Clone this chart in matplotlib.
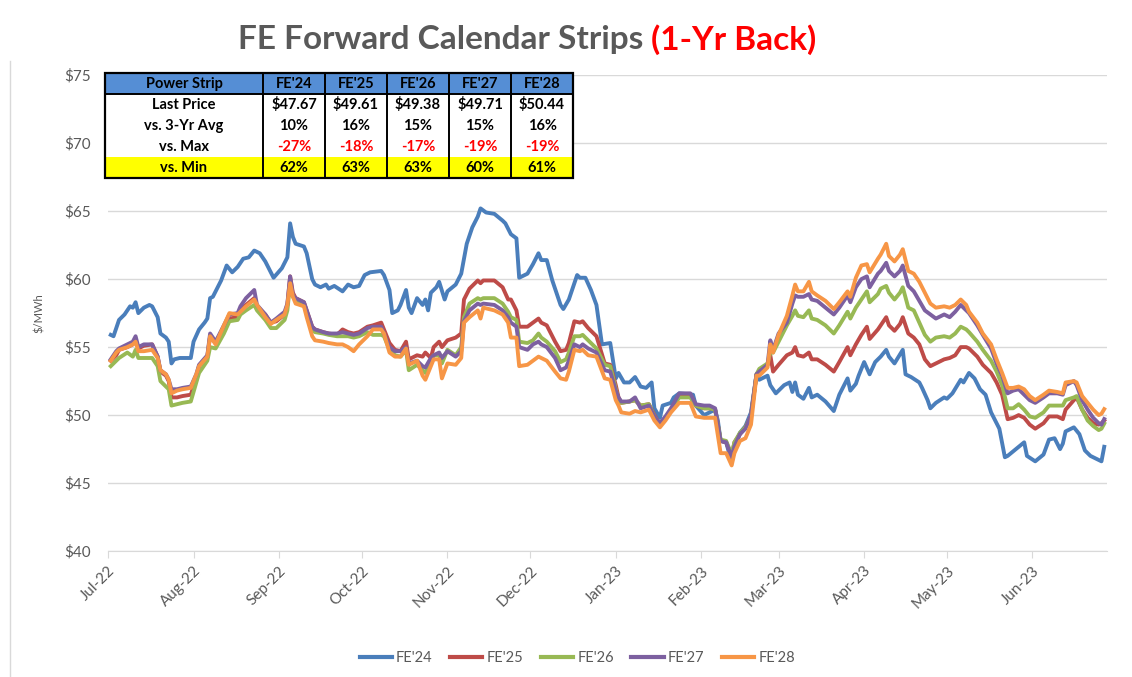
import numpy as np
import pandas as pd
import matplotlib
matplotlib.use('Agg')
import matplotlib.pyplot as plt
import matplotlib.dates as mdates
from matplotlib.lines import Line2D
from matplotlib.patches import Rectangle

plt.rcParams['font.family'] = ['Lato', 'DejaVu Sans']

start = pd.Timestamp('2022-07-01')

# FE'24 - дни от 1 июля 2022 и цены
days_24 = [1, 2, 4, 6, 8, 9, 10, 11, 13, 15, 16, 18, 19, 21, 22, 23, 24, 26, 30, 31,
           33, 35, 36, 37, 38, 41, 43, 45, 47, 49, 51, 53, 55, 57, 58, 60, 63, 65, 66, 67,
           68, 71, 72, 74, 75, 77, 79, 80, 82, 85, 87, 89, 91, 93, 95, 99, 100, 102, 103, 105,
           106, 108, 109, 110, 112, 114, 115, 116, 117, 119, 120, 122, 123, 126, 128, 130, 132, 134, 135, 137,
           140, 143, 144, 146, 148, 149, 152, 154, 156, 157, 159, 161, 164, 165, 167, 170, 171, 173, 175, 177,
           179, 182, 184, 185, 187, 189, 191, 193, 195, 197, 198, 200, 201, 204, 205, 207, 212, 213, 216, 218,
           220, 221, 222, 224, 226, 227, 229, 231, 233, 235, 236, 239, 240, 242, 245, 247, 248, 249, 250, 252,
           254, 255, 257, 260, 263, 265, 268, 269, 271, 272, 274, 276, 278, 280, 282, 283, 285, 288, 289, 291,
           294, 295, 297, 298, 300, 303, 304, 306, 309, 310, 312, 314, 316, 318, 320, 323, 325, 326, 329, 332,
           333, 336, 339, 341, 343, 345, 346, 347, 350, 352, 354, 356, 358, 360, 361]
fe24 = [55.9, 55.8, 57.0, 57.4, 58.0, 57.9, 58.3, 57.5, 57.9, 58.1, 58.0, 57.2, 56.0, 55.7, 55.4, 53.8, 54.1, 54.2, 54.2, 55.4,
        56.3, 56.8, 57.1, 58.6, 58.7, 59.9, 61.0, 60.5, 60.9, 61.5, 61.6, 62.1, 61.9, 61.3, 60.9, 60.1, 60.8, 61.6, 64.1, 63.1,
        62.6, 62.4, 61.9, 60.0, 59.6, 59.4, 59.6, 59.3, 59.5, 59.1, 59.6, 59.4, 59.5, 60.3, 60.5, 60.6, 60.3, 59.2, 57.5, 57.7,
        58.1, 59.2, 57.9, 57.5, 58.6, 58.1, 58.5, 57.7, 59.0, 59.4, 59.8, 58.5, 59.1, 59.6, 60.4, 62.6, 63.8, 64.6, 65.2, 64.9,
        64.8, 64.3, 64.1, 63.3, 63.0, 60.1, 60.4, 61.1, 61.9, 61.4, 61.4, 59.9, 58.1, 57.8, 58.5, 60.3, 60.1, 60.1, 59.2, 58.1,
        55.2, 55.3, 52.7, 53.1, 52.4, 52.4, 52.8, 52.1, 52.0, 52.4, 50.5, 49.8, 50.7, 50.9, 51.3, 51.6, 51.5, 50.7, 50.0, 50.2,
        50.4, 49.6, 48.1, 48.0, 46.5, 47.5, 48.7, 49.2, 50.2, 53.0, 52.6, 52.9, 52.2, 51.6, 52.2, 52.4, 51.7, 52.4, 51.5, 51.2,
        52.0, 51.3, 51.5, 51.0, 50.3, 51.5, 52.7, 51.8, 52.3, 52.9, 53.9, 53.0, 53.9, 54.3, 54.8, 54.3, 53.8, 54.8, 53.0, 52.8,
        52.4, 52.0, 51.1, 50.5, 50.9, 51.3, 51.2, 51.6, 52.6, 52.4, 53.1, 52.7, 51.9, 51.5, 50.2, 49.0, 46.9, 47.0, 47.5, 48.0,
        47.0, 46.6, 47.1, 48.2, 48.3, 47.5, 47.9, 48.8, 49.1, 48.6, 47.4, 47.0, 46.8, 46.6, 47.67]

# FE'25..FE'28 - общая сетка дней
days = [1, 3, 4, 7, 9, 10, 11, 13, 16, 18, 19, 21, 22, 23, 25, 27, 30, 32, 33, 36,
        37, 39, 42, 44, 47, 48, 50, 53, 54, 57, 59, 61, 64, 65, 66, 67, 68, 71, 72, 74,
        75, 78, 80, 83, 85, 87, 89, 91, 94, 96, 99, 100, 102, 104, 106, 108, 109, 112, 114, 115,
        117, 118, 120, 121, 123, 126, 128, 129, 131, 134, 135, 136, 140, 143, 145, 146, 148, 149, 152, 154,
        156, 157, 159, 162, 164, 166, 167, 169, 171, 172, 174, 177, 180, 182, 184, 185, 186, 189, 191, 193,
        196, 198, 200, 202, 204, 207, 209, 211, 213, 216, 218, 220, 222, 224, 226, 227, 229, 231, 233, 235,
        236, 239, 240, 241, 243, 246, 248, 249, 250, 252, 254, 255, 257, 260, 263, 265, 268, 269, 271, 273,
        275, 276, 279, 280, 282, 283, 285, 287, 288, 290, 292, 294, 296, 298, 300, 303, 305, 307, 309, 311,
        312, 315, 317, 320, 322, 324, 326, 328, 330, 332, 334, 336, 339, 341, 344, 346, 347, 350, 351, 353,
        355, 357, 359, 360, 361]
fe25 = [54.0, 54.4, 54.8, 55.0, 55.2, 55.5, 54.9, 55.1, 55.2, 54.3, 53.2, 52.9, 52.5, 51.3, 51.3, 51.4, 51.5, 52.7, 53.6, 54.3,
        55.8, 55.3, 56.5, 57.1, 57.2, 57.7, 58.1, 58.6, 58.0, 57.4, 56.8, 56.9, 57.4, 58.1, 60.2, 59.0, 58.6, 58.3, 57.7, 56.5,
        56.3, 56.1, 56.0, 55.9, 56.3, 56.1, 56.0, 56.1, 56.5, 56.6, 56.8, 56.3, 55.3, 54.8, 54.7, 55.4, 54.1, 54.4, 54.3, 54.6,
        54.2, 55.0, 55.4, 55.0, 55.5, 55.7, 56.0, 58.5, 59.3, 59.9, 59.7, 59.9, 59.9, 59.4, 58.5, 58.5, 57.7, 56.5, 56.5, 56.8,
        57.1, 56.8, 56.6, 55.4, 54.7, 54.8, 55.3, 56.9, 56.8, 56.9, 56.4, 55.8, 53.8, 53.7, 52.2, 51.3, 50.9, 51.0, 51.1, 50.7,
        50.8, 50.0, 49.3, 49.8, 50.3, 51.4, 51.5, 51.5, 50.7, 50.5, 50.5, 50.4, 48.1, 48.0, 47.0, 48.0, 48.6, 49.1, 49.9, 53.0,
        53.2, 53.7, 54.4, 53.2, 53.7, 54.4, 54.6, 55.0, 54.4, 54.3, 54.6, 54.1, 54.1, 53.7, 53.2, 53.9, 55.0, 54.4, 55.2, 55.9,
        56.5, 55.6, 56.3, 56.6, 57.2, 56.6, 56.2, 56.7, 57.2, 56.0, 55.7, 55.2, 54.1, 53.6, 53.8, 54.1, 54.2, 54.4, 55.0, 55.0,
        54.9, 54.3, 53.7, 53.1, 52.4, 51.5, 49.7, 49.8, 50.0, 49.8, 49.3, 49.0, 49.4, 49.9, 49.9, 49.7, 50.4, 51.1, 51.3, 50.4,
        49.8, 49.4, 49.3, 49.4, 49.61]
fe26 = [53.6, 54.0, 54.2, 54.6, 54.3, 54.8, 54.2, 54.2, 54.2, 53.6, 52.5, 52.1, 51.9, 50.7, 50.8, 50.9, 51.0, 52.4, 53.1, 54.0,
        55.0, 54.9, 56.0, 56.9, 57.0, 57.4, 57.7, 58.1, 57.7, 57.0, 56.4, 56.4, 57.0, 57.7, 59.7, 58.7, 58.5, 58.1, 57.5, 56.3,
        56.1, 56.0, 55.9, 55.8, 55.8, 55.8, 55.7, 55.8, 56.1, 55.9, 55.9, 55.8, 54.8, 54.4, 54.3, 54.8, 53.3, 53.7, 53.3, 53.1,
        53.8, 54.4, 54.4, 53.8, 54.8, 54.4, 55.0, 57.2, 58.2, 58.6, 58.5, 58.6, 58.6, 58.2, 57.6, 57.2, 57.0, 55.4, 55.3, 55.5,
        56.0, 55.7, 55.4, 54.7, 53.9, 54.1, 54.6, 55.8, 55.8, 55.9, 55.5, 54.9, 53.7, 53.6, 51.9, 51.1, 50.9, 51.0, 51.1, 50.7,
        50.8, 49.9, 49.3, 49.8, 50.4, 51.3, 51.3, 51.3, 50.7, 50.5, 50.5, 50.4, 48.2, 48.1, 47.1, 48.0, 48.7, 49.1, 49.9, 53.0,
        53.4, 53.8, 54.6, 54.6, 55.4, 56.6, 57.3, 57.7, 57.3, 57.2, 57.7, 57.1, 57.0, 56.6, 56.0, 56.6, 57.6, 57.1, 57.9, 58.5,
        59.1, 58.3, 58.9, 59.3, 59.5, 59.0, 58.5, 59.0, 59.4, 57.9, 57.7, 56.8, 55.9, 55.4, 55.7, 55.8, 55.7, 56.0, 56.5, 56.3,
        56.1, 55.4, 54.8, 54.0, 53.2, 52.2, 50.5, 50.5, 50.8, 50.4, 49.9, 49.8, 50.2, 50.7, 50.7, 50.7, 51.1, 51.3, 51.4, 50.4,
        49.6, 49.2, 48.9, 49.0, 49.38]
fe27 = [54.1, 54.7, 54.9, 55.2, 55.4, 55.8, 55.0, 55.2, 55.2, 54.3, 53.3, 53.0, 52.6, 51.9, 51.9, 52.0, 52.1, 53.0, 53.7, 54.4,
        56.0, 55.4, 56.6, 57.4, 57.5, 58.0, 58.6, 59.2, 58.1, 57.4, 56.8, 57.1, 57.6, 58.2, 60.2, 58.8, 58.6, 58.3, 57.7, 56.5,
        56.3, 56.1, 56.0, 56.0, 56.1, 56.0, 55.9, 56.0, 56.4, 56.5, 56.5, 56.0, 55.0, 54.7, 54.7, 55.0, 53.8, 54.0, 53.6, 53.5,
        54.2, 54.4, 54.6, 54.2, 54.7, 54.3, 54.7, 56.9, 57.7, 58.2, 58.1, 58.2, 58.1, 57.7, 57.2, 56.8, 56.5, 55.0, 54.8, 55.2,
        55.4, 55.2, 55.0, 54.2, 53.3, 53.5, 54.0, 55.2, 55.0, 55.2, 54.9, 54.6, 53.3, 53.2, 51.8, 51.3, 51.0, 51.0, 51.3, 50.5,
        50.7, 49.9, 49.4, 49.9, 50.5, 51.6, 51.6, 51.6, 50.8, 50.7, 50.7, 50.5, 48.1, 48.0, 46.9, 47.7, 48.6, 49.0, 50.0, 53.0,
        53.2, 53.7, 55.5, 54.8, 56.0, 56.8, 58.2, 58.8, 58.7, 58.7, 58.9, 58.5, 58.4, 57.9, 57.4, 57.9, 58.8, 58.3, 59.4, 60.0,
        60.2, 59.4, 60.4, 60.6, 61.2, 60.6, 60.2, 60.6, 61.0, 59.5, 59.1, 58.4, 57.7, 57.4, 57.1, 57.4, 57.2, 57.6, 58.1, 57.7,
        57.5, 56.6, 55.9, 54.9, 53.8, 52.9, 51.6, 51.8, 51.9, 51.5, 51.1, 50.9, 51.3, 51.6, 51.6, 51.5, 52.2, 52.5, 52.2, 51.1,
        50.4, 49.8, 49.4, 49.3, 49.71]
fe28 = [54.0, 54.6, 54.8, 55.0, 55.2, 55.4, 54.7, 54.7, 54.8, 54.2, 53.3, 53.0, 52.6, 51.6, 51.8, 51.9, 52.0, 53.0, 53.6, 54.3,
        55.8, 55.2, 56.6, 57.5, 57.4, 57.6, 58.0, 58.5, 58.1, 57.2, 56.7, 57.0, 57.4, 58.1, 59.7, 58.7, 58.2, 58.0, 57.2, 55.8,
        55.5, 55.4, 55.3, 55.2, 55.2, 55.0, 54.7, 55.2, 55.8, 56.3, 56.3, 56.0, 54.6, 54.3, 54.3, 54.9, 53.7, 54.0, 52.9, 52.6,
        53.6, 54.1, 54.1, 52.7, 53.8, 53.7, 54.2, 56.8, 57.2, 57.7, 57.1, 57.9, 57.7, 57.4, 56.8, 55.7, 55.7, 53.6, 53.7, 54.0,
        54.3, 54.2, 54.0, 53.2, 52.7, 52.6, 53.2, 54.8, 54.7, 54.8, 54.4, 54.3, 52.7, 52.6, 51.1, 50.7, 50.2, 50.1, 50.3, 50.2,
        50.4, 49.6, 49.1, 49.6, 50.2, 50.9, 50.9, 50.9, 49.9, 49.8, 49.8, 49.8, 47.2, 47.2, 46.3, 47.2, 48.1, 48.3, 49.3, 52.9,
        52.9, 53.5, 55.2, 54.6, 55.9, 57.3, 58.8, 59.6, 59.1, 59.1, 59.8, 59.1, 58.8, 58.4, 57.8, 58.3, 59.1, 58.7, 60.1, 61.0,
        61.1, 60.5, 61.5, 61.8, 62.6, 61.7, 61.3, 61.8, 62.2, 60.6, 60.4, 59.8, 59.0, 58.2, 57.9, 58.0, 57.9, 58.1, 58.5, 58.1,
        57.6, 56.8, 56.0, 55.2, 54.1, 53.1, 52.0, 52.0, 52.1, 51.9, 51.4, 51.1, 51.5, 51.8, 51.7, 51.6, 52.4, 52.5, 52.4, 51.4,
        50.9, 50.4, 50.0, 50.1, 50.44]

names = ["FE'24", "FE'25", "FE'26", "FE'27", "FE'28"]
colors = ['#4A7EBB', '#BE4B48', '#98B954', '#7D60A0', '#F79646']

# таблица
row_labels = ['Power Strip', 'Last Price', 'vs. 3-Yr Avg', 'vs. Max', 'vs. Min']
last_price = ['$47.67', '$49.61', '$49.38', '$49.71', '$50.44']
vs_avg = ['10%', '16%', '15%', '15%', '16%']
vs_max = ['-27%', '-18%', '-17%', '-19%', '-19%']
vs_min = ['62%', '63%', '63%', '60%', '61%']

gray = '#595959'

fig = plt.figure(figsize=(11.32, 6.77), dpi=100)
ax = fig.add_axes([0.0954, 0.186, 0.8825, 0.703])

d24 = start + pd.to_timedelta(days_24, unit='D')
dd = start + pd.to_timedelta(days, unit='D')
ax.plot(d24, fe24, color=colors[0], lw=2.8, solid_joinstyle='round')
for vals, c in zip([fe25, fe26, fe27, fe28], colors[1:]):
    ax.plot(dd, vals, color=c, lw=2.8, solid_joinstyle='round')

ax.set_ylim(40, 75)
ax.set_yticks(np.arange(40, 76, 5))
ax.yaxis.set_major_formatter(plt.FuncFormatter(lambda v, p: f'${v:.0f}'))
ax.set_xlim(start, start + pd.Timedelta(days=362))
ax.xaxis.set_major_locator(mdates.MonthLocator())
ax.xaxis.set_major_formatter(mdates.DateFormatter('%b-%y'))
ax.grid(axis='y', color='#D9D9D9', lw=1)
ax.set_axisbelow(True)
for s in ['top', 'right', 'left']:
    ax.spines[s].set_visible(False)
ax.spines['bottom'].set_color('#D9D9D9')
ax.tick_params(axis='y', length=0, labelsize=11, labelcolor=gray, pad=12)
ax.tick_params(axis='x', length=5, color='#D9D9D9', labelsize=11, labelcolor=gray, pad=4)
for lab in ax.get_xticklabels():
    lab.set_rotation(45)
    lab.set_ha('right')
    lab.set_rotation_mode('anchor')
ax.set_ylabel('$/MWh', fontsize=8, color=gray, labelpad=14)

# таблица над графиком
cell_text = [[row_labels[0]] + names,
             [row_labels[1]] + last_price,
             [row_labels[2]] + vs_avg,
             [row_labels[3]] + vs_max,
             [row_labels[4]] + vs_min]
col_w = [0.3376] + [0.1325] * 5
tx0, ty0, tw, th = -0.003, 0.7836, 0.4685, 0.2204
tbl = ax.table(cellText=cell_text, cellLoc='center', colWidths=col_w,
               bbox=[tx0, ty0, tw, th])
tbl.set_zorder(4)
tbl.auto_set_font_size(False)
for (r, c), cell in tbl.get_celld().items():
    cell.get_text().set_fontsize(10.5)
    cell.get_text().set_fontweight('bold')
    if r == 0:
        fc = '#558ED5'
    elif r == 4:
        fc = '#FFFF00'
    else:
        fc = 'white'
    cell.set_facecolor(fc)
    cell.set_edgecolor(fc)
    cell.set_linewidth(0)
    if r == 3 and c > 0:
        cell.get_text().set_color('#FF0000')

# линии таблицы: рамка, вертикали, линия под шапкой
lkw = dict(color='black', lw=1.4, transform=ax.transAxes, clip_on=False, zorder=5)
ax.add_patch(Rectangle((tx0, ty0), tw, th, fill=False, ec='black', lw=1.6,
                       transform=ax.transAxes, clip_on=False, zorder=5))
xs = tx0 + tw * np.cumsum(col_w[:-1]) / sum(col_w)
for xv in xs:
    ax.plot([xv, xv], [ty0, ty0 + th], **lkw)
ax.plot([tx0, tx0 + tw], [ty0 + th * 4 / 5] * 2, **lkw)

# заголовок из двух частей
t1 = fig.text(0.21, 0.942, 'FE Forward Calendar Strips ', fontsize=24,
              fontweight='bold', color=gray, va='center', ha='left')
fig.canvas.draw()
bb = t1.get_window_extent()
fig.text(bb.x1 / fig.bbox.width, 0.942, '(1-Yr Back)', fontsize=24,
         fontweight='bold', color='#FF0000', va='center', ha='left')

handles = [Line2D([], [], color=c, lw=3) for c in colors]
fig.legend(handles, names, loc='center', bbox_to_anchor=(0.51, 0.028), ncol=5,
           frameon=False, fontsize=10.5, handlelength=2.2, handletextpad=0.3,
           columnspacing=1.2, labelcolor=gray)

# рамка области диаграммы
fig.add_artist(Line2D([0.009, 0.009], [0.0, 0.91], color='#D9D9D9', lw=1))

fig.savefig('out.png', dpi=100)
